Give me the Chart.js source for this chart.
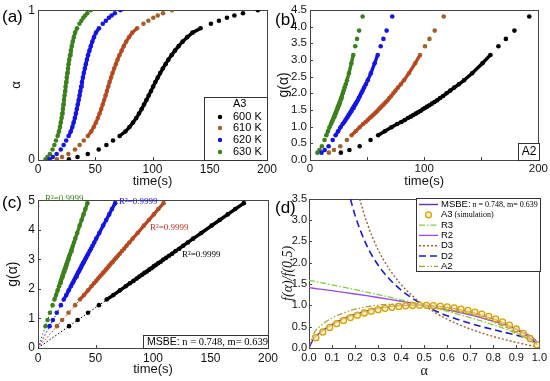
<!DOCTYPE html>
<html>
<head>
<meta charset="utf-8">
<script src="https://cdn.jsdelivr.net/npm/chart.js@4.4.0/dist/chart.umd.min.js"></script>
<style>
body { margin: 0; background: #fff; }
#fig { position: relative; width: 550px; height: 381px; overflow: hidden; }
canvas { position: absolute; }
</style>
</head>
<body>
<div id="fig">
<canvas id="ca" width="290" height="190" style="left:0;top:0"></canvas>
<canvas id="cb" width="275" height="190" style="left:275px;top:0"></canvas>
<canvas id="cc" width="290" height="191" style="left:0;top:190px"></canvas>
<canvas id="cd" width="275" height="191" style="left:275px;top:190px"></canvas>
</div>
<script>
// panels (a)-(c): four temperatures, same conversion levels
const temps = ["600 K", "610 K", "620 K", "630 K"];
const colors = ["#000000", "#a0602a", "#1414e6", "#3c801e"];
const alphaA = [0.005, 0.02, 0.04, 0.07, 0.10, 0.13, 0.16, 0.19, 0.22, 0.25, 0.28, 0.31, 0.34, 0.37, 0.40, 0.43, 0.46, 0.49, 0.52, 0.55, 0.58, 0.61, 0.64, 0.67, 0.70, 0.73, 0.76, 0.79, 0.82, 0.85, 0.88, 0.91, 0.93, 0.95, 0.965, 0.98, 1.0];
const t600 = [27, 34.5, 43.5, 53, 59.7, 65.5, 71.3, 76.3, 79.9, 83.0, 85.8, 88.2, 90.5, 92.6, 94.7, 96.7, 98.7, 100.6, 102.5, 104.6, 106.7, 109.0, 111.4, 113.9, 116.6, 119.6, 122.8, 126.3, 130.3, 134.9, 142, 151, 158, 165, 171.5, 179, 192];
const t610 = [16.5, 21, 26.5, 32.3, 36.4, 40, 43.5, 46.5, 48.7, 50.6, 52.3, 53.8, 55.2, 56.5, 57.8, 59, 60.2, 61.4, 62.5, 63.8, 65.1, 66.5, 68, 69.5, 71.1, 73, 74.9, 77, 79.5, 82.3, 86.6, 92.1, 96.4, 100.7, 104.6, 109.2, 117.1];
const t620 = [10.1, 12.9, 16.3, 19.9, 22.4, 24.6, 26.7, 28.6, 30, 31.1, 32.2, 33.1, 33.9, 34.7, 35.5, 36.3, 37, 37.7, 38.4, 39.2, 40, 40.9, 41.8, 42.7, 43.7, 44.9, 46.1, 47.4, 48.9, 50.6, 53.3, 56.6, 59.3, 61.9, 64.3, 67.1, 72];
const t630 = [6.5, 8.3, 10.4, 12.7, 14.3, 15.7, 17.1, 18.3, 19.2, 19.9, 20.6, 21.2, 21.7, 22.2, 22.7, 23.2, 23.7, 24.1, 24.6, 25.1, 25.6, 26.2, 26.7, 27.3, 28, 28.7, 29.5, 30.3, 31.3, 32.4, 34.1, 36.2, 37.9, 39.6, 41.2, 43, 46.1];
const gA2 = [0.22, 0.30, 0.41, 0.60, 0.74, 0.86, 0.98, 1.08, 1.14, 1.20, 1.26, 1.30, 1.35, 1.39, 1.43, 1.47, 1.52, 1.56, 1.60, 1.64, 1.69, 1.74, 1.79, 1.86, 1.92, 2.00, 2.08, 2.17, 2.27, 2.39, 2.60, 2.90, 3.15, 3.41, 3.63, 3.88, 4.30];
const gMSBE = [0.74, 0.945, 1.19, 1.45, 1.64, 1.79, 1.95, 2.09, 2.19, 2.27, 2.35, 2.42, 2.48, 2.54, 2.59, 2.65, 2.70, 2.76, 2.81, 2.87, 2.92, 2.99, 3.05, 3.12, 3.19, 3.28, 3.36, 3.46, 3.57, 3.70, 3.89, 4.14, 4.33, 4.52, 4.70, 4.90, null];
const fitEndT = [180, 110, 68, 43.5];
const fitEndG = 4.92;

// panel (d): normalised f(alpha)/f(0.5)
const alphaD = [0, 0.02, 0.05, 0.1, 0.15, 0.2, 0.25, 0.3, 0.35, 0.4, 0.45, 0.5, 0.55, 0.6, 0.65, 0.7, 0.75, 0.8, 0.85, 0.9, 0.95, 0.98, 0.99];
const msbe = [0, 0.212, 0.371, 0.555, 0.689, 0.792, 0.870, 0.928, 0.969, 0.994, 1.004, 1.0, 0.982, 0.951, 0.906, 0.846, 0.772, 0.681, 0.571, 0.437, 0.269, 0.138, 0.083];
const r3 = [1.587, 1.566, 1.534, 1.479, 1.424, 1.368, 1.310, 1.251, 1.191, 1.129, 1.065, 1.0, 0.932, 0.862, 0.788, 0.711, 0.630, 0.543, 0.448, 0.342, 0.215, 0.117, 0.074];
const r2 = [1.414, 1.400, 1.378, 1.342, 1.304, 1.265, 1.225, 1.183, 1.140, 1.095, 1.049, 1.0, 0.949, 0.894, 0.837, 0.775, 0.707, 0.632, 0.548, 0.447, 0.316, 0.200, 0.141];
const a2 = [0, 0.335, 0.517, 0.702, 0.823, 0.908, 0.966, 1.004, 1.025, 1.030, 1.022, 1.0, 0.966, 0.920, 0.861, 0.791, 0.707, 0.610, 0.496, 0.365, 0.208, 0.095, 0.052];
const alphaD2 = [0.18, 0.2, 0.25, 0.3, 0.35, 0.4, 0.45, 0.5, 0.55, 0.6, 0.65, 0.7, 0.75, 0.8, 0.85, 0.9, 0.95, 0.98, 0.99];
const d2 = [3.49, 3.107, 2.409, 1.943, 1.609, 1.357, 1.159, 1.0, 0.868, 0.756, 0.660, 0.576, 0.5, 0.431, 0.365, 0.301, 0.231, 0.177, 0.150];
const alphaD3 = [0.22, 0.25, 0.3, 0.35, 0.4, 0.45, 0.5, 0.55, 0.6, 0.65, 0.7, 0.75, 0.8, 0.85, 0.9, 0.95, 0.98, 0.99];
const d3 = [3.49, 2.957, 2.303, 1.836, 1.487, 1.216, 1.0, 0.823, 0.675, 0.551, 0.444, 0.351, 0.270, 0.197, 0.132, 0.070, 0.033, 0.019];
const alphaSim = [0.03, 0.06, 0.09, 0.12, 0.15, 0.18, 0.21, 0.24, 0.27, 0.30, 0.33, 0.36, 0.39, 0.42, 0.45, 0.48, 0.51, 0.54, 0.57, 0.60, 0.63, 0.66, 0.69, 0.72, 0.75, 0.78, 0.81, 0.84, 0.87, 0.90, 0.93, 0.96, 0.99];
const a3Sim = [0.242, 0.375, 0.482, 0.570, 0.646, 0.712, 0.769, 0.820, 0.862, 0.899, 0.929, 0.954, 0.974, 0.988, 0.996, 1.000, 0.999, 0.992, 0.981, 0.964, 0.941, 0.913, 0.880, 0.840, 0.794, 0.741, 0.681, 0.612, 0.534, 0.445, 0.343, 0.223, 0.071];

// tick values
const ticksTime = [0, 50, 100, 150, 200];
const ticksAlphaY = [0, 1];
const ticksGB = [0, 0.5, 1, 1.5, 2, 2.5, 3, 3.5, 4, 4.5];
const ticksGC = [0, 1, 2, 3, 4, 5];
const ticksAlphaX = [0, 0.1, 0.2, 0.3, 0.4, 0.5, 0.6, 0.7, 0.8, 0.9, 1.0];
const ticksF = [0, 0.5, 1, 1.5, 2, 2.5, 3, 3.5];

const FS = "'Liberation Sans', Arial, sans-serif";
const FT = "'Liberation Serif', 'Times New Roman', serif";
const tSeries = [t600, t610, t620, t630];

function axes(o) {
    return {
        x: {
            type: "linear", min: o.x[0], max: o.x[1],
            grid: { display: false, drawTicks: false }, border: { display: false },
            afterBuildTicks: s => { s.ticks = o.xt.map(v => ({ value: v })); },
            afterFit: s => { s.height = o.xh; },
            ticks: { autoSkip: false, maxRotation: 0, minRotation: 0, padding: o.xpad, color: "#111",
                font: { family: FS, size: o.fs }, callback: o.xcb || (v => v) },
            title: { display: true, text: o.xtitle, color: "#111", font: o.xtfont, padding: { top: 0, bottom: o.xtpad } }
        },
        y: {
            type: "linear", min: o.y[0], max: o.y[1],
            grid: { display: false, drawTicks: false }, border: { display: false },
            afterBuildTicks: s => { s.ticks = o.yt.map(v => ({ value: v })); },
            afterFit: s => { s.width = o.yw; },
            ticks: { autoSkip: false, padding: o.ypad, color: "#111",
                font: { family: FS, size: o.fs }, callback: o.ycb || (v => v) },
            title: { display: true, text: o.ytitle, color: "#111", font: o.ytfont, padding: { top: o.ytpad, bottom: 0 } }
        }
    };
}

const frame = {
    id: "frame",
    beforeDatasetsDraw(chart) {
        const { ctx, chartArea: a, scales } = chart;
        ctx.save();
        ctx.strokeStyle = "#444";
        ctx.lineWidth = 1;
        ctx.strokeRect(Math.round(a.left) + 0.5, Math.round(a.top) + 0.5, Math.round(a.right - a.left), Math.round(a.bottom - a.top));
        ctx.beginPath();
        scales.x.ticks.forEach(t => {
            const p = Math.round(scales.x.getPixelForValue(t.value)) + 0.5;
            ctx.moveTo(p, a.bottom); ctx.lineTo(p, a.bottom - 3);
        });
        scales.y.ticks.forEach(t => {
            const p = Math.round(scales.y.getPixelForValue(t.value)) + 0.5;
            ctx.moveTo(a.left, p); ctx.lineTo(a.left + 3, p);
        });
        ctx.stroke();
        ctx.restore();
    }
};

function txt(ctx, s, x, y, font, color, align) {
    ctx.font = font;
    ctx.fillStyle = color || "#000";
    ctx.textAlign = align || "left";
    ctx.textBaseline = "middle";
    ctx.fillText(s, x, y);
    return ctx.measureText(s).width;
}

function box(ctx, x, y, w, h) {
    ctx.fillStyle = "#fff";
    ctx.fillRect(x, y, w, h);
    ctx.strokeStyle = "#333";
    ctx.lineWidth = 1;
    ctx.strokeRect(x + 0.5, y + 0.5, w - 1, h - 1);
}

function mk(id, datasets, o, decor) {
    return new Chart(document.getElementById(id), {
        type: "scatter",
        data: { datasets },
        options: {
            responsive: false, animation: false, devicePixelRatio: 1,
            layout: { autoPadding: false, padding: o.pad },
            plugins: { legend: { display: false }, tooltip: { enabled: false } },
            scales: axes(o)
        },
        plugins: [frame, { id: "decor", afterDatasetsDraw(c) { c.ctx.save(); decor(c.ctx, c); c.ctx.restore(); } }]
    });
}

function pairs(xs, ys) {
    const pts = [];
    xs.forEach((x, k) => { if (ys[k] !== null && ys[k] !== undefined) pts.push({ x, y: ys[k] }); });
    return pts;
}

// dots for each temperature, plus a band where the dots crowd together
function series(ys, from, to) {
    const out = [];
    tSeries.forEach((ts, i) => {
        const pts = pairs(ts, ys);
        out.push({ data: pts, order: 0, backgroundColor: colors[i], borderColor: colors[i],
            pointRadius: 2.3, pointHoverRadius: 2.3, pointBorderWidth: 0, showLine: false });
        out.push({ data: pts.slice(from, to), order: 1, showLine: true, pointRadius: 0,
            borderColor: colors[i], borderWidth: 3.4 });
        if (i === 1) {
            out.push({ data: pts.slice(from, to), order: -1, showLine: true, pointRadius: 0,
                borderColor: "rgba(230,30,30,0.85)", borderWidth: 1.2 });
        }
    });
    return out;
}

// (a) alpha vs time
mk("ca", series(alphaA, 6, 31), {
    x: [0, 200], xt: ticksTime, xh: 30, xpad: 2, fs: 12, xtitle: "time(s)", xtfont: { family: FS, size: 13 }, xtpad: 1,
    y: [0, 1], yt: ticksAlphaY, yw: 38, ypad: 3, ytitle: "α", ytfont: { family: FS, size: 13 }, ytpad: 9,
    pad: { left: 0, top: 9, right: 23, bottom: 0 }
}, ctx => {
    txt(ctx, "(a)", 2, 17, "17px " + FS);
    box(ctx, 204, 97, 64, 64);
    txt(ctx, "A3", 233, 104, "11px " + FS);
    [117, 128, 140, 152].forEach((y, i) => {
        ctx.fillStyle = colors[i];
        ctx.beginPath(); ctx.arc(220, y, 2.2, 0, Math.PI * 2); ctx.fill();
        txt(ctx, temps[i], 233, y, "11px " + FS);
    });
});

// (b) g(alpha) for A2
mk("cb", series(gA2, 4, 33), {
    x: [0, 200], xt: ticksTime, xh: 30, xpad: 2, fs: 11.5, xtitle: "time(s)", xtfont: { family: FS, size: 13 }, xtpad: 1,
    xcb: v => (v % 100 === 0 ? v : ""),
    y: [0, 4.5], yt: ticksGB, yw: 35, ypad: 3, ycb: v => v.toFixed(1), ytitle: "g(α)", ytfont: { family: FS, size: 14 }, ytpad: 1,
    pad: { left: 0, top: 7, right: 11, bottom: 0 }
}, ctx => {
    txt(ctx, "(b)", 0, 20, "17px " + FS);
    box(ctx, 243, 143, 22, 18);
    txt(ctx, "A2", 254, 152, "12px " + FS, "#000", "center");
});

// (c) g(alpha) for MSBE with linear fits
const dsC = series(gMSBE, 4, 36);
fitEndT.forEach((t, i) => {
    dsC.push({
        data: [{ x: 0, y: 0 }, { x: t, y: fitEndG }], order: 2, showLine: true, pointRadius: 0,
        borderColor: i === 1 ? "#e02020" : colors[i], borderWidth: 1, borderDash: [1.5, 2]
    });
});
mk("cc", dsC, {
    x: [0, 200], xt: ticksTime, xh: 33, xpad: 3, fs: 12, xtitle: "time(s)", xtfont: { family: FS, size: 13 }, xtpad: 4,
    y: [0, 5], yt: ticksGC, yw: 38, ypad: 3, ytitle: "g(α)", ytfont: { family: FS, size: 14 }, ytpad: 4.5,
    pad: { left: 0, top: 8, right: 22, bottom: 0 }
}, ctx => {
    txt(ctx, "(c)", 2, 13, "17px " + FS);
    const rf = "9px " + FT;
    txt(ctx, "R²=0.9999", 45, 9, rf, colors[3]);
    txt(ctx, "R²=0.9999", 119, 12, rf, colors[2]);
    txt(ctx, "R²=0.9999", 150, 38, rf, "#c03020");
    txt(ctx, "R²=0.9999", 182, 65, rf, "#000");
    box(ctx, 143, 145, 126, 14);
    let w = txt(ctx, "MSBE:", 147, 152, "10.5px " + FS);
    txt(ctx, " n = 0.748, m= 0.639", 147 + w, 152.5, "10.5px " + FT);
});

// (d) normalised kinetic functions
function curve(xs, ys, color, width, dash) {
    return {
        data: pairs(xs, ys), showLine: true, pointRadius: 0,
        borderColor: color, borderWidth: width, borderDash: dash, cubicInterpolationMode: "monotone"
    };
}
const dStyles = {
    msbe: ["#6a2bb0", 1.4, []],
    r3: ["#7fcf3f", 1.3, [6, 2, 1.5, 2]],
    r2: ["#9a48e8", 1.3, []],
    d3: ["#a0603a", 1.4, [2, 2]],
    d2: ["#1a1acc", 1.6, [7, 4]],
    a2: ["#a8a040", 1.3, [6, 2, 1.5, 2, 1.5, 2]]
};
const simColor = "#d4a20a";
mk("cd", [
    { data: pairs(alphaSim, a3Sim), showLine: false, pointRadius: 3, pointBorderWidth: 1.3,
      borderColor: simColor, backgroundColor: "rgba(255,238,170,0.7)" },
    curve(alphaD, msbe, ...dStyles.msbe),
    curve(alphaD, r3, ...dStyles.r3),
    curve(alphaD, r2, ...dStyles.r2),
    curve(alphaD3, d3, ...dStyles.d3),
    curve(alphaD2, d2, ...dStyles.d2),
    curve(alphaD, a2, ...dStyles.a2)
], {
    x: [0, 1], xt: ticksAlphaX, xh: 33, xpad: 3, fs: 11, xcb: v => v.toFixed(1), xtitle: "α", xtfont: { family: FT, size: 14 }, xtpad: 1,
    y: [0, 3.5], yt: ticksF, yw: 34, ypad: 2, ycb: v => v.toFixed(1), ytitle: "f(α)/f(0.5)", ytfont: { family: FT, size: 14, style: "italic" }, ytpad: 4.5,
    pad: { left: 0, top: 8, right: 10, bottom: 0 }
}, ctx => {
    txt(ctx, "(d)", 0, 18, "17px " + FS);
    box(ctx, 141, 8, 125, 74);
    const rows = [
        ["msbe", "MSBE:", " n = 0.748, m= 0.639"],
        ["sim", "A3", " (simulation)"],
        ["r3", "R3", ""], ["r2", "R2", ""], ["d3", "D3", ""], ["d2", "D2", ""], ["a2", "A2", ""]
    ];
    rows.forEach((r, i) => {
        const y = 14.5 + i * 10.3;
        if (r[0] === "sim") {
            ctx.strokeStyle = simColor; ctx.lineWidth = 1.3; ctx.fillStyle = "rgba(255,238,170,0.7)";
            ctx.beginPath(); ctx.arc(153.5, y, 3, 0, Math.PI * 2); ctx.fill(); ctx.stroke();
        } else {
            const s = dStyles[r[0]];
            ctx.strokeStyle = s[0]; ctx.lineWidth = s[1]; ctx.setLineDash(s[2]);
            ctx.beginPath(); ctx.moveTo(144, y); ctx.lineTo(163, y); ctx.stroke();
            ctx.setLineDash([]);
        }
        const w = txt(ctx, r[1], 166, y, "9.5px " + FS);
        if (r[2]) txt(ctx, r[2], 166 + w, y + 0.5, "8px " + FT);
    });
});
</script>
</body>
</html>
